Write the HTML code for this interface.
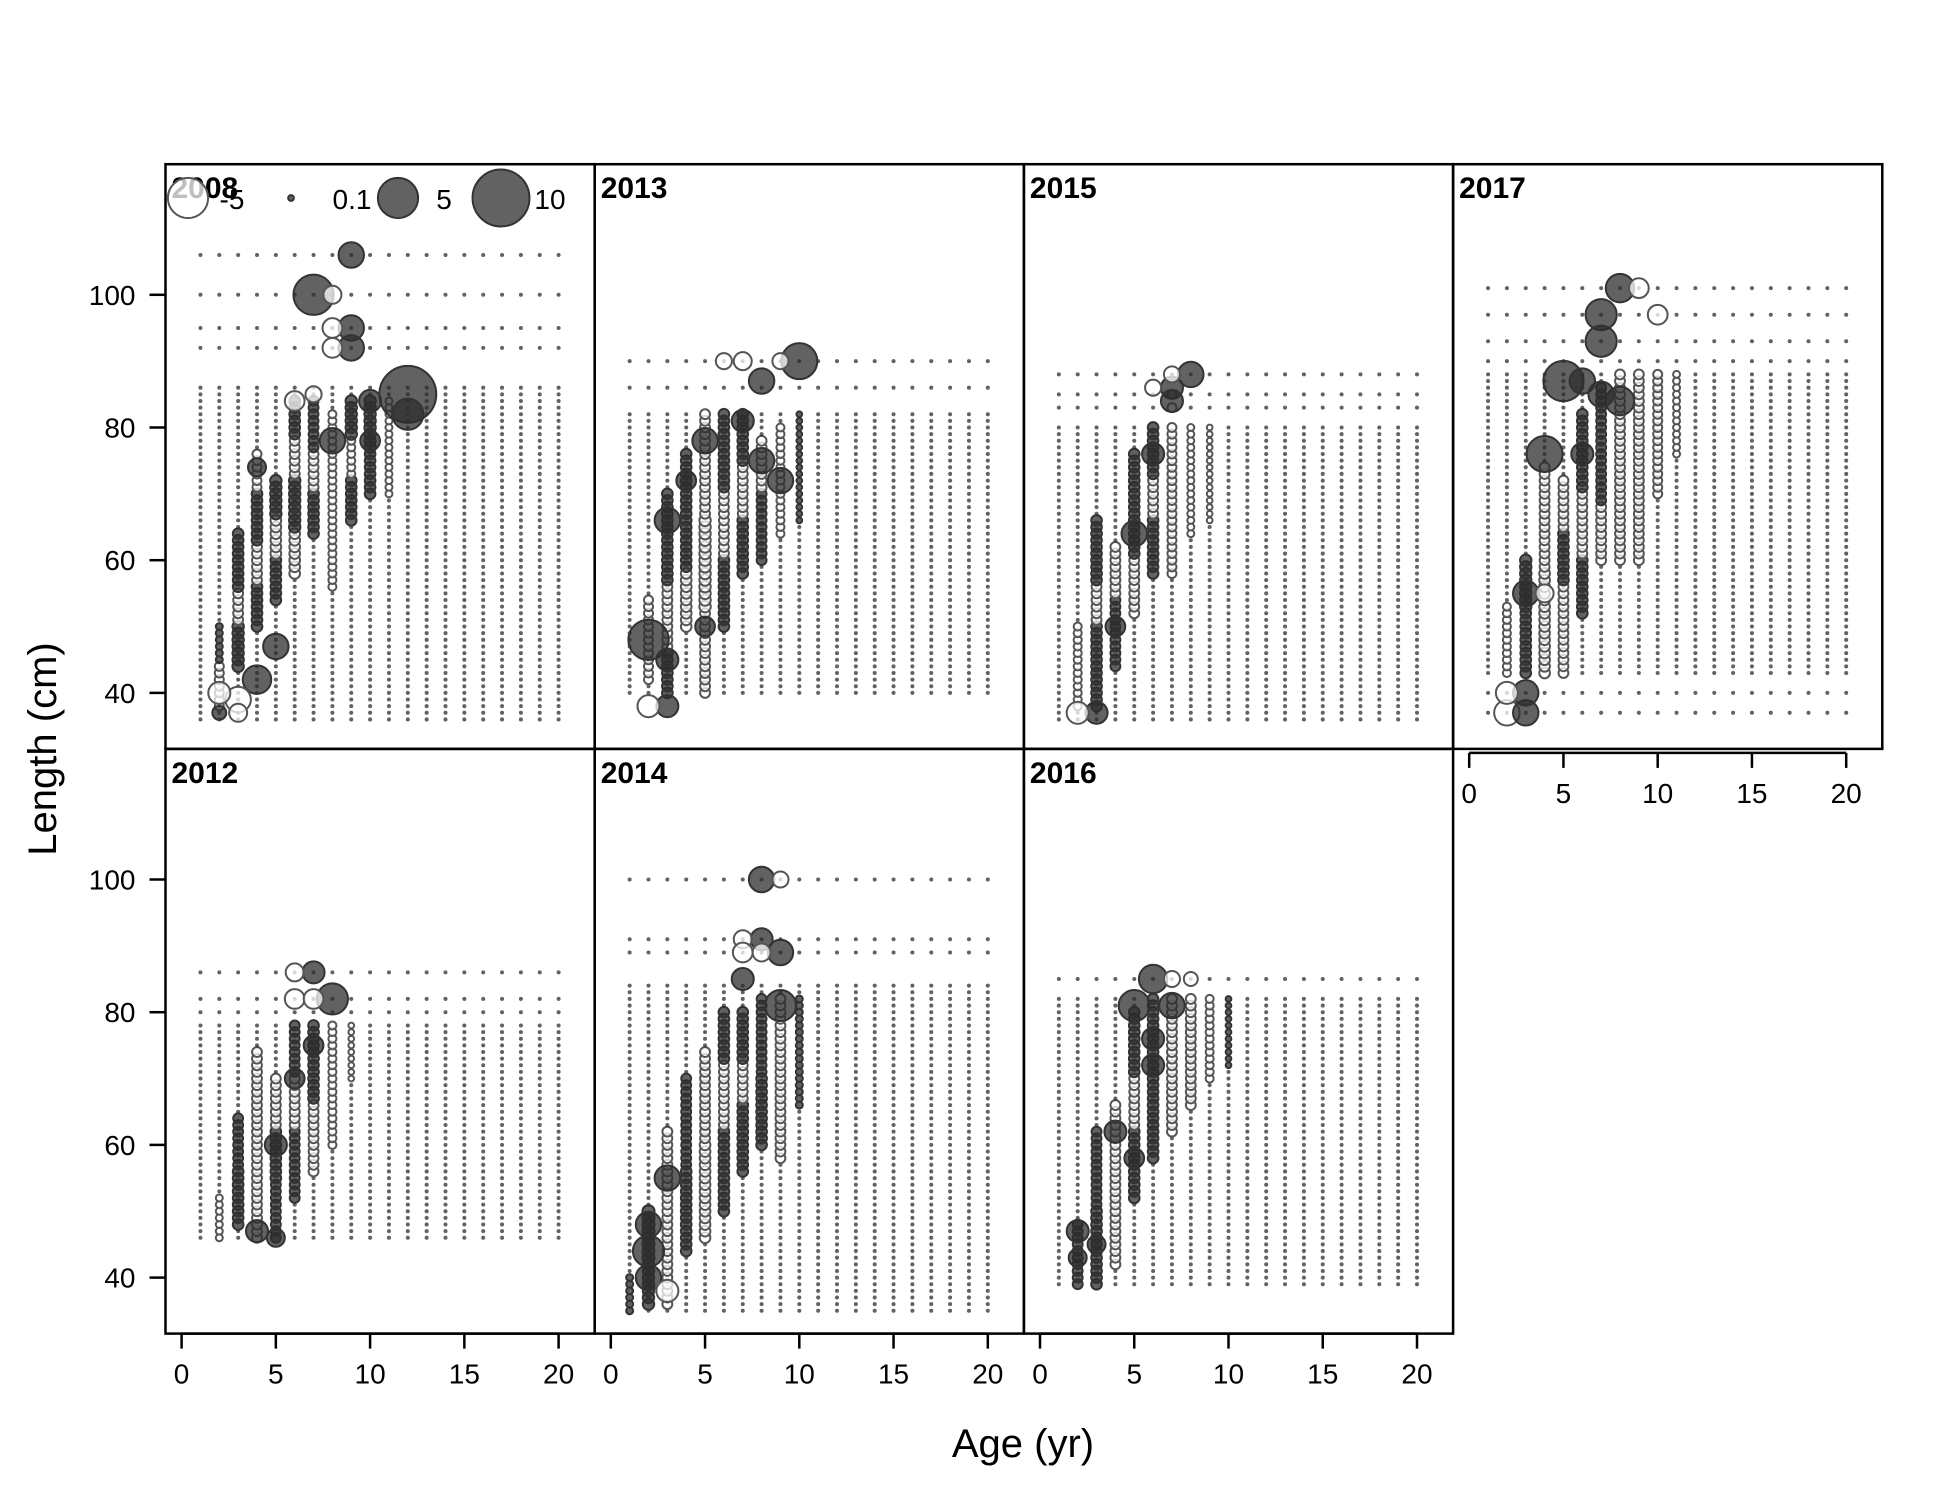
<!DOCTYPE html>
<html><head><meta charset="utf-8"><style>
body{margin:0;background:#fff}
svg{display:block;font-family:"Liberation Sans",Arial,sans-serif}
</style></head><body>
<svg id="chart" width="1950" height="1500" viewBox="0 0 1950 1500"></svg>
<script>
// ---- data ----
const years = ["2008","2013","2015","2017","2012","2014","2016"];
const panelCols = [0,1,2,3,0,1,2];
const panelRows = [0,0,0,0,1,1,1];
const denseMin = [36,40,36,43,46,35,39];
const denseMax = [86,82,80,88,78,84,82];
const extraRows = [[92,95,100,106],[86,90],[83,85,88],[37,40,90,93,97,101],[80,82,86],[89,91,100],[85]];
const smallVal = 0.05;
// column runs: [age, lenFrom, lenTo, value]
const runs2008 = [[2,38,44,-0.25],[2,45,50,0.15],[3,44,50,0.4],[3,51,55,-0.3],[3,56,64,0.35],[4,50,56,0.35],[4,57,62,-0.3],[4,63,70,0.35],[4,71,76,-0.25],[5,54,60,0.35],[5,61,66,-0.35],[5,67,72,0.4],[6,58,64,-0.35],[6,65,72,0.4],[6,73,78,-0.3],[6,79,84,0.35],[7,64,70,0.35],[7,71,76,-0.3],[7,77,84,0.3],[8,56,82,-0.2],[9,66,72,0.35],[9,73,78,-0.2],[9,79,84,0.4],[10,70,76,0.35],[10,77,84,0.4],[11,70,84,-0.15]];
const runs2013 = [[2,42,54,-0.25],[3,40,46,0.35],[3,47,56,-0.3],[3,57,70,0.35],[4,50,58,-0.35],[4,59,76,0.35],[5,40,52,-0.3],[5,53,66,-0.4],[5,67,82,-0.3],[6,50,60,0.35],[6,61,70,-0.3],[6,71,82,0.35],[7,58,66,0.35],[7,67,74,-0.3],[7,75,82,0.35],[8,60,70,0.3],[8,71,78,-0.3],[9,64,80,-0.2],[10,66,82,0.1]];
const runs2015 = [[2,38,50,-0.2],[3,38,50,0.35],[3,51,56,-0.3],[3,57,66,0.35],[4,44,54,0.3],[4,55,62,-0.3],[5,52,60,-0.3],[5,61,76,0.35],[6,58,66,0.35],[6,67,72,-0.3],[6,73,80,0.35],[7,58,86,-0.25],[8,64,80,-0.15],[9,66,80,-0.1]];
const runs2017 = [[2,43,53,-0.2],[3,43,52,0.35],[3,53,60,0.4],[4,43,58,-0.35],[4,59,74,-0.3],[5,43,56,-0.3],[5,57,64,0.35],[5,65,72,-0.3],[6,52,60,0.35],[6,61,70,-0.3],[6,71,82,0.35],[7,60,68,-0.3],[7,69,86,0.3],[8,60,88,-0.3],[9,60,88,-0.3],[10,70,88,-0.25],[11,76,88,-0.15]];
const runs2012 = [[2,46,52,-0.15],[3,48,56,0.35],[3,57,64,0.3],[4,46,56,-0.3],[4,57,74,-0.3],[5,46,54,0.3],[5,55,62,0.35],[5,63,70,-0.3],[6,52,62,0.3],[6,63,70,-0.3],[6,71,78,0.3],[7,56,66,-0.3],[7,67,78,0.35],[8,60,78,-0.2],[9,70,78,-0.1]];
const runs2014 = [[1,35,40,0.15],[2,36,42,0.4],[2,43,50,0.45],[3,36,46,-0.3],[3,47,62,-0.3],[4,44,56,0.35],[4,57,70,0.3],[5,46,60,-0.35],[5,61,74,-0.3],[6,50,62,0.35],[6,63,72,-0.3],[6,73,80,0.35],[7,56,66,0.35],[7,67,72,-0.3],[7,73,80,0.35],[8,60,70,0.35],[8,71,82,0.3],[9,58,82,-0.3],[10,66,82,0.15]];
const runs2016 = [[2,39,48,0.3],[3,39,50,0.35],[3,51,62,0.3],[4,42,66,-0.3],[5,52,62,0.35],[5,63,70,-0.3],[5,71,80,0.35],[6,58,70,0.35],[6,71,82,0.35],[7,62,82,-0.3],[8,66,82,-0.3],[9,70,82,-0.2],[10,72,82,0.1]];
const runs = [runs2008,runs2013,runs2015,runs2017,runs2012,runs2014,runs2016];
// notable bubbles: [age, length, value]
const big2008 = [[12,85,10],[12,82,3],[7,100,5],[9,106,2],[9,95,2],[9,92,2],[8,95,-1.2],[8,92,-1.2],[8,100,-1],[5,47,2],[4,42,2.5],[3,39,-2],[2,40,-1.5],[2,37,0.6],[3,37,-1],[8,78,2],[4,74,1],[10,84,1.5],[10,78,1.2],[6,84,-1.2],[7,85,-0.8]];
const big2013 = [[10,90,4],[8,87,2],[7,90,-1],[6,90,-0.8],[9,90,-0.8],[2,48,5],[3,38,1.5],[2,38,-1.5],[3,45,1.5],[3,66,2],[5,78,2],[7,81,1.5],[9,72,2],[8,75,2],[4,72,1.2],[5,50,1.2]];
const big2015 = [[8,88,2],[7,86,1.5],[7,84,1.5],[3,37,1.5],[2,37,-1.5],[6,76,1.5],[5,64,2],[4,50,1.2],[7,88,-0.8],[6,86,-0.8]];
const big2017 = [[8,101,2.5],[7,97,3],[7,93,3],[5,87,5],[4,76,4],[6,87,2],[8,84,2.5],[7,85,2],[3,55,2],[2,37,-2],[3,37,2],[3,40,2],[2,40,-1.5],[4,55,-1],[6,76,1.5],[9,101,-1.2],[10,97,-1.2]];
const big2012 = [[8,82,3],[7,86,1.5],[6,86,-1],[6,82,-1.2],[7,82,-1.2],[4,47,1.5],[5,46,1],[5,60,1.5],[6,70,1.2],[7,75,1.2]];
const big2014 = [[8,100,2],[8,91,1.5],[9,89,2],[7,85,1.5],[9,81,3],[2,48,2],[2,44,3],[2,40,2],[3,55,2],[3,38,-1.5],[8,89,-1],[7,91,-1],[7,89,-1.2],[9,100,-0.8]];
const big2016 = [[6,85,2.5],[5,81,3],[7,81,2],[2,47,1.5],[2,43,1],[3,45,1],[4,62,1.5],[6,76,1.5],[6,72,1.5],[5,58,1.2],[7,85,-0.8],[8,85,-0.6]];
const bigs = [big2008,big2013,big2015,big2017,big2012,big2014,big2016];
const xTicks = [0,5,10,15,20];
const yTicks = [40,60,80,100];
const legendVals = [-5,0.1,5,10];
const legendLabels = ["-5","0.1","5","10"];

// ---- layout ----
const NS="http://www.w3.org/2000/svg";
const svg=document.getElementById('chart');
const L0=165.5, CW=429.2, T0=164.2, RH=584.7, AX0=16.1, PY=18.85, LOFF=130.6, PCM=6.635;
function px(c,a){return L0+c*CW+AX0+a*PY;}
function py(r,l){return T0+r*RH+LOFF+(100-l)*PCM;}
function rad(v){return Math.max(1.8,9*Math.sqrt(Math.abs(v)));}
function mk(tag,attrs,parent){const e=document.createElementNS(NS,tag);for(const k in attrs)e.setAttribute(k,attrs[k]);(parent||svg).appendChild(e);return e;}
function bubble(g,x,y,v){
  const c=mk('circle',{cx:x,cy:y,r:rad(v)},g);
  if(v>0){c.setAttribute('fill','rgba(45,45,45,0.75)');c.setAttribute('stroke','#333');c.setAttribute('stroke-width',Math.abs(v)<0.1?0:2);}
  else{c.setAttribute('fill','rgba(255,255,255,0.75)');c.setAttribute('stroke','#555');c.setAttribute('stroke-width',2);}
  
  
  return c;
}

for(let p=0;p<years.length;p++){
  const c=panelCols[p], r=panelRows[p];
  const g=mk('g',{});
  
  
  const vals={};
  const lens=[];
  for(let l=denseMin[p];l<=denseMax[p];l++)lens.push(l);
  extraRows[p].forEach(l=>lens.push(l));
  for(let a=1;a<=20;a++)lens.forEach(l=>{vals[a+'_'+l]=smallVal;});
  runs[p].forEach(([a,f,t,v])=>{for(let l=f;l<=t;l++){if(vals[a+'_'+l]!==undefined)vals[a+'_'+l]=v;}});
  for(const k in vals){const [a,l]=k.split('_').map(Number);bubble(g,px(c,a),py(r,l),vals[k]);}
  bigs[p].forEach(([a,l,v])=>bubble(g,px(c,a),py(r,l),v));
  const b=mk('rect',{x:L0+c*CW,y:T0+r*RH,width:CW,height:RH,fill:'none',stroke:'#000','stroke-width':2.5},g);
  
  
  const t=mk('text',{x:L0+c*CW+6,y:T0+r*RH+34,'font-size':30,'font-weight':'bold'},g);
  t.textContent=years[p];
  
  
}

// legend
const lg=mk('g',{});


const legX=[188,291,398,501], legTX=[232,352,444,550];
legendVals.forEach((v,i)=>{
  bubble(lg,legX[i],198,v);
  const t=mk('text',{x:legTX[i],y:209,'font-size':28,'text-anchor':'middle'},lg);
  t.textContent=legendLabels[i];
  
  
});

// x axes
function xAxis(c,yLine){
  const g=mk('g',{});
  
  
  mk('line',{x1:px(c,0),x2:px(c,20),y1:yLine,y2:yLine,stroke:'#000','stroke-width':2.5},g);
  xTicks.forEach(v=>{
    mk('line',{x1:px(c,v),x2:px(c,v),y1:yLine,y2:yLine+15,stroke:'#000','stroke-width':2.5},g);
    const t=mk('text',{x:px(c,v),y:yLine+50,'font-size':28,'text-anchor':'middle'},g);
    t.textContent=v;
    
    
  });
}
xAxis(0,T0+2*RH); xAxis(1,T0+2*RH); xAxis(2,T0+2*RH); xAxis(3,T0+RH+4);
// y axes
for(let r=0;r<2;r++){
  const g=mk('g',{});
  
  
  yTicks.forEach(v=>{
    mk('line',{x1:L0-16,x2:L0,y1:py(r,v),y2:py(r,v),stroke:'#000','stroke-width':2.5},g);
    const t=mk('text',{x:L0-30,y:py(r,v)+10,'font-size':28,'text-anchor':'end'},g);
    t.textContent=v;
    
    
  });
}
const xt=mk('text',{x:1023,y:1457,'font-size':40,'text-anchor':'middle'});
xt.textContent='Age (yr)';


const yt=mk('text',{x:56,y:749,'font-size':40,'text-anchor':'middle',transform:'rotate(-90 56 749)'});
yt.textContent='Length (cm)';


</script>
</body></html>
